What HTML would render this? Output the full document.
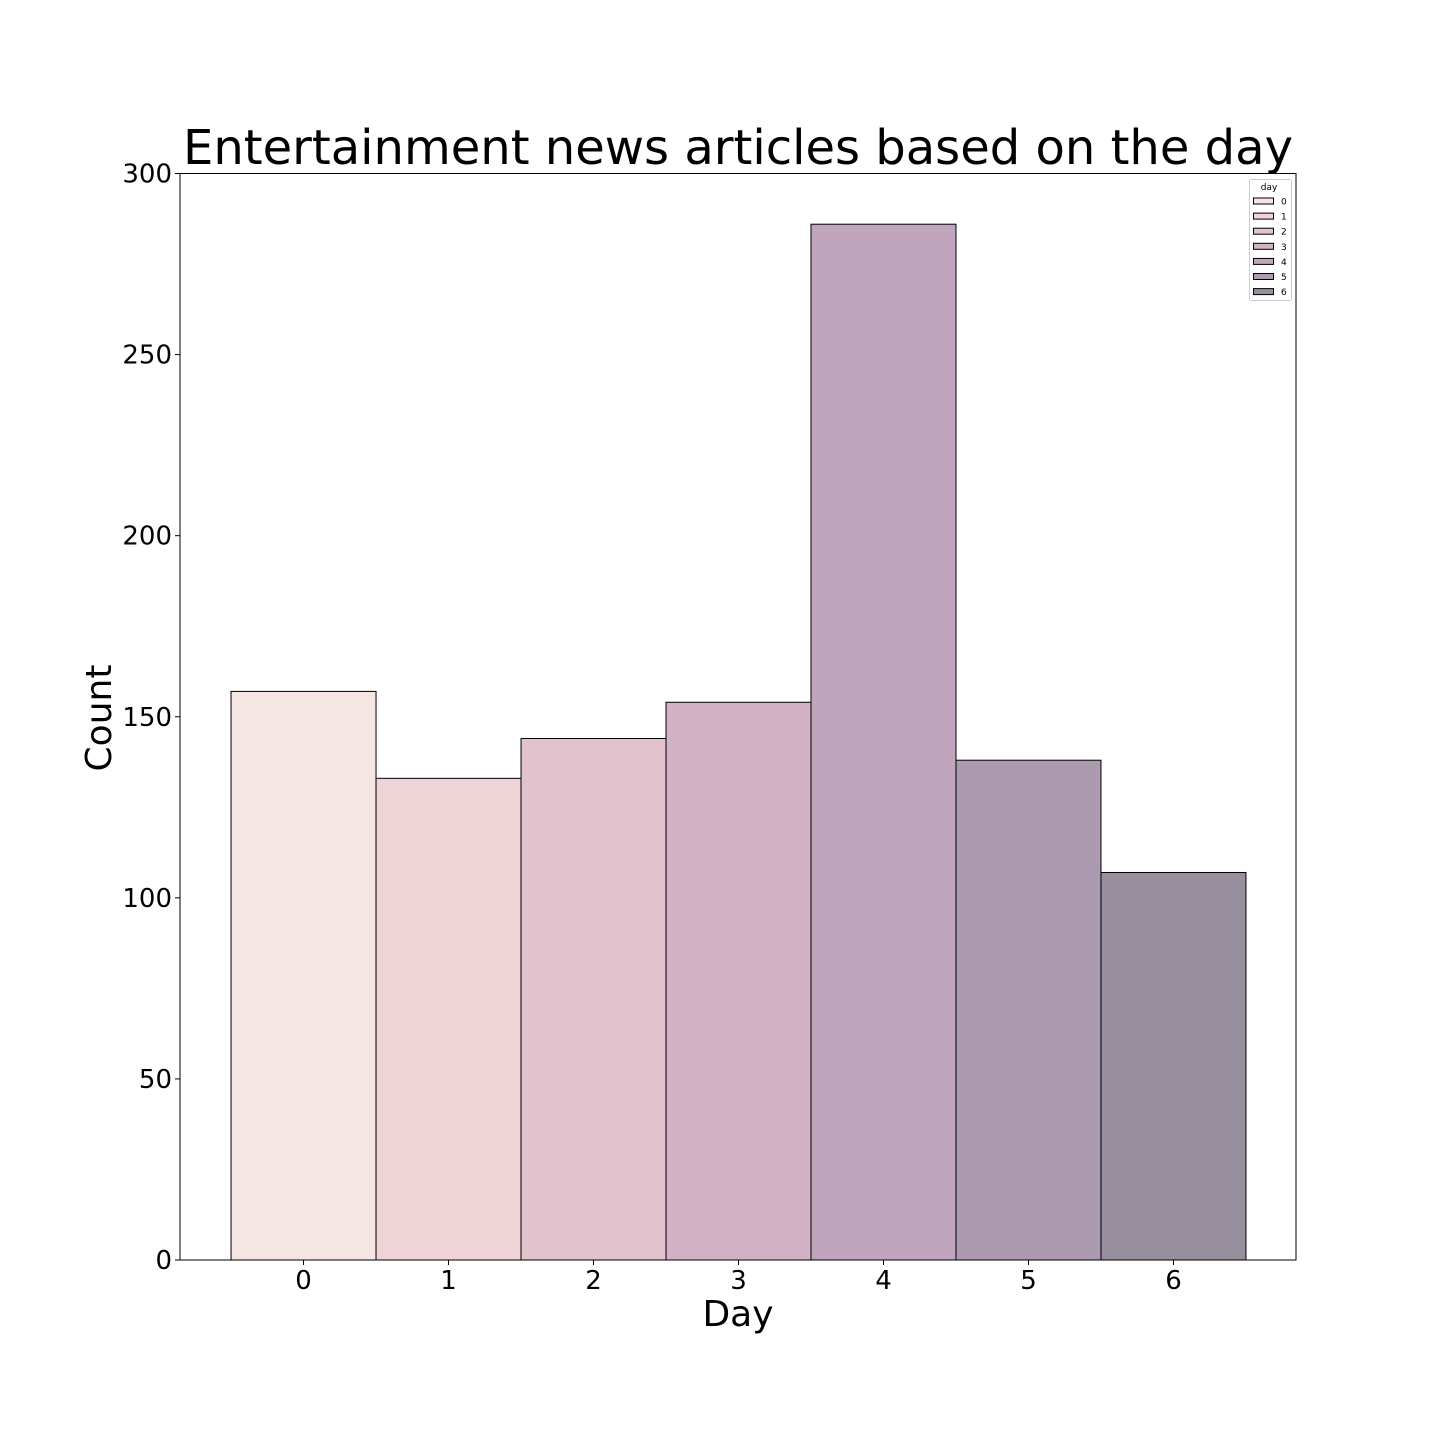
<!DOCTYPE html>
<html><head><meta charset="utf-8"><style>
body{margin:0;background:#fff}
svg text{font-family:"DejaVu Sans","Liberation Sans",sans-serif}
</style></head><body>
<svg id="chart" width="1440" height="1440" xmlns="http://www.w3.org/2000/svg">
<rect width="1440" height="1440" fill="#fff"/>
<text x="738" y="164" font-size="48" text-anchor="middle" textLength="1110" lengthAdjust="spacingAndGlyphs">Entertainment news articles based on the day</text>
<g id="bars"></g>
<g id="yticks"></g>
<g id="xticks"></g>
<rect x="180" y="173.5" width="1116" height="1086.5" fill="none" stroke="#000" stroke-width="1"/>
<text x="738" y="1326" font-size="36" text-anchor="middle">Day</text>
<text transform="translate(111,718) rotate(-90)" font-size="36" text-anchor="middle">Count</text>
<g id="legend"></g>
</svg>
<script>
const categories=[0,1,2,3,4,5,6];
const counts=[157,133,144,154,286,138,107];
const yTicks=[0,50,100,150,200,250,300];
const colors=["#f5e6e4","#efd3d7","#e2c2cd","#d4b2c6","#c1a5bd","#ab9ab0","#978e9e"];
const NS="http://www.w3.org/2000/svg";
const L=180,R=1296,T=173.5,B=1260;
const xs=v=>L+(v+0.852)/(6.845+0.852)*(R-L);
const ys=v=>B-v/300*(B-T);
function mk(t,a,p){const e=document.createElementNS(NS,t);for(const k in a)e.setAttribute(k,a[k]);p.appendChild(e);return e;}
const bars=document.getElementById('bars');
categories.forEach((c,i)=>{
 const x0=xs(c-0.5),x1=xs(c+0.5);
 const r=mk('rect',{x:x0,y:ys(counts[i]),width:x1-x0,height:B-ys(counts[i]),fill:colors[i],stroke:'#000','stroke-width':1},bars);
 
 
});
const yt=document.getElementById('yticks');
yTicks.forEach(v=>{
 const l=mk('line',{x1:L-5,x2:L,y1:ys(v),y2:ys(v),stroke:'#000'},yt);
 
 
 const t=mk('text',{x:L-8,y:ys(v)+9,'font-size':26,'text-anchor':'end'},yt);
 t.textContent=v;
 
 
});
const xt=document.getElementById('xticks');
categories.forEach(c=>{
 const l=mk('line',{x1:xs(c),x2:xs(c),y1:B,y2:B+5,stroke:'#000'},xt);
 
 
 const t=mk('text',{x:xs(c),y:B+29,'font-size':26,'text-anchor':'middle'},xt);
 t.textContent=c;
 
 
});
const lg=document.getElementById('legend');
mk('rect',{x:1249.5,y:179.5,width:42,height:121,rx:2,fill:'#fff',stroke:'#ccc'},lg);
const lt=mk('text',{x:1269,y:190,'font-size':9,'text-anchor':'middle'},lg);
lt.textContent='day';
categories.forEach((c,i)=>{
 const y=201+i*15.1;
 const p=mk('rect',{x:1253.5,y:y-3,width:20,height:6,fill:colors[i],stroke:'#000','stroke-width':1},lg);
 
 
 const t=mk('text',{x:1281,y:y+3.5,'font-size':9},lg);
 t.textContent=c;
 
 
});
</script>
</body></html>
